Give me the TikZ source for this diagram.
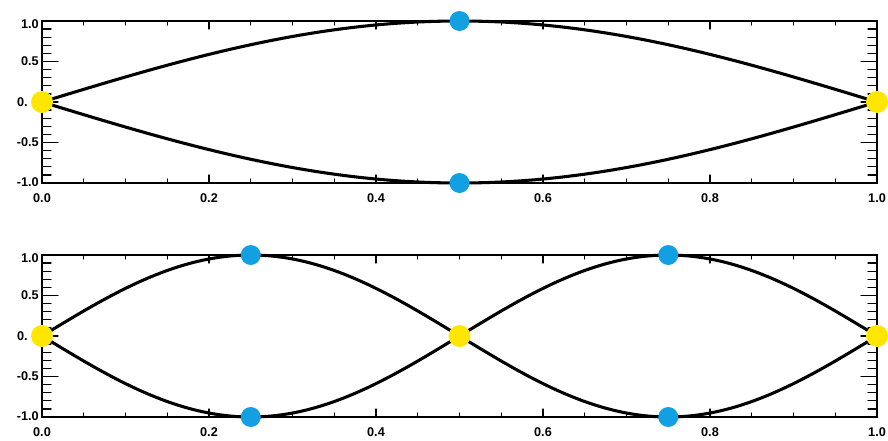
\documentclass[tikz,border=0pt]{standalone}
\usepackage{fontspec}
\setmainfont{Liberation Sans}
\usepackage{tikz}
\usepackage{xcolor}
\definecolor{nodeyellow}{RGB}{255,230,0}
\definecolor{antiblue}{RGB}{18,160,226}

\begin{document}
\begin{tikzpicture}[x=0.75pt,y=0.75pt,line cap=round,font=\fontsize{9.5}{10}\selectfont\bfseries,
  frame/.style={line width=1.5pt},
  wave/.style={line width=2.3pt,line join=round},
  tick/.style={line width=1pt},
  ylab/.style={anchor=east,inner sep=0pt},
  xlab/.style={inner sep=0pt},
  nodept/.style={fill=nodeyellow},
  antipt/.style={fill=antiblue}]
\useasboundingbox (0,0) rectangle (888,440);
\foreach \k/\yo in {1/338,2/104}{
\begin{scope}[shift={(42,\yo)}]
\draw[frame] (0,-81) rectangle (835,81);
\foreach \i in {-9,...,9}{
  \draw[tick] (0,8.1*\i) -- (9,8.1*\i);
  \draw[tick] (835,8.1*\i) -- (826,8.1*\i);
}
\foreach \i in {-1,0,1}{
  \draw[tick] (0,40.5*\i) -- (16,40.5*\i);
  \draw[tick] (835,40.5*\i) -- (819,40.5*\i);
}
\foreach \i in {1,...,19}{
  \draw[tick] (41.75*\i,-81) -- ++(0,4);
  \draw[tick] (41.75*\i,81) -- ++(0,-4);
}
\foreach \i in {1,...,4}{
  \draw[tick] (167*\i,-81) -- ++(0,8);
  \draw[tick] (167*\i,81) -- ++(0,-8);
}
\node[ylab] (ytop\k) at (-3,78) {1.0};
\node[ylab] (yhalf\k) at (-3,40.5) {0.5};
\node[ylab] (yzero\k) at (-14,0) {0.};
\node[ylab] (ymhalf\k) at (-3,-40.5) {-0.5};
\node[ylab] (ybot\k) at (-3,-80) {-1.0};
\foreach \i/\lab in {0/0.0,1/0.2,2/0.4,3/0.6,4/0.8,5/1.0}
  \node[xlab] (x\k\i) at (167*\i,-96) {\lab};
\draw[wave] plot[domain=0:1,samples=150] ({835*\x},{81*sin(\k*180*\x)});
\draw[wave] plot[domain=0:1,samples=150] ({835*\x},{-81*sin(\k*180*\x)});
\foreach \j in {0,...,\k}
  \fill[nodept] ({835*\j/\k},0) circle (11);
\foreach \j in {1,...,\k}{
  \fill[antipt] ({835*(2*\j-1)/(2*\k)},81) circle (10);
  \fill[antipt] ({835*(2*\j-1)/(2*\k)},-81) circle (10);
}
\end{scope}
}
\end{tikzpicture}
\end{document}
